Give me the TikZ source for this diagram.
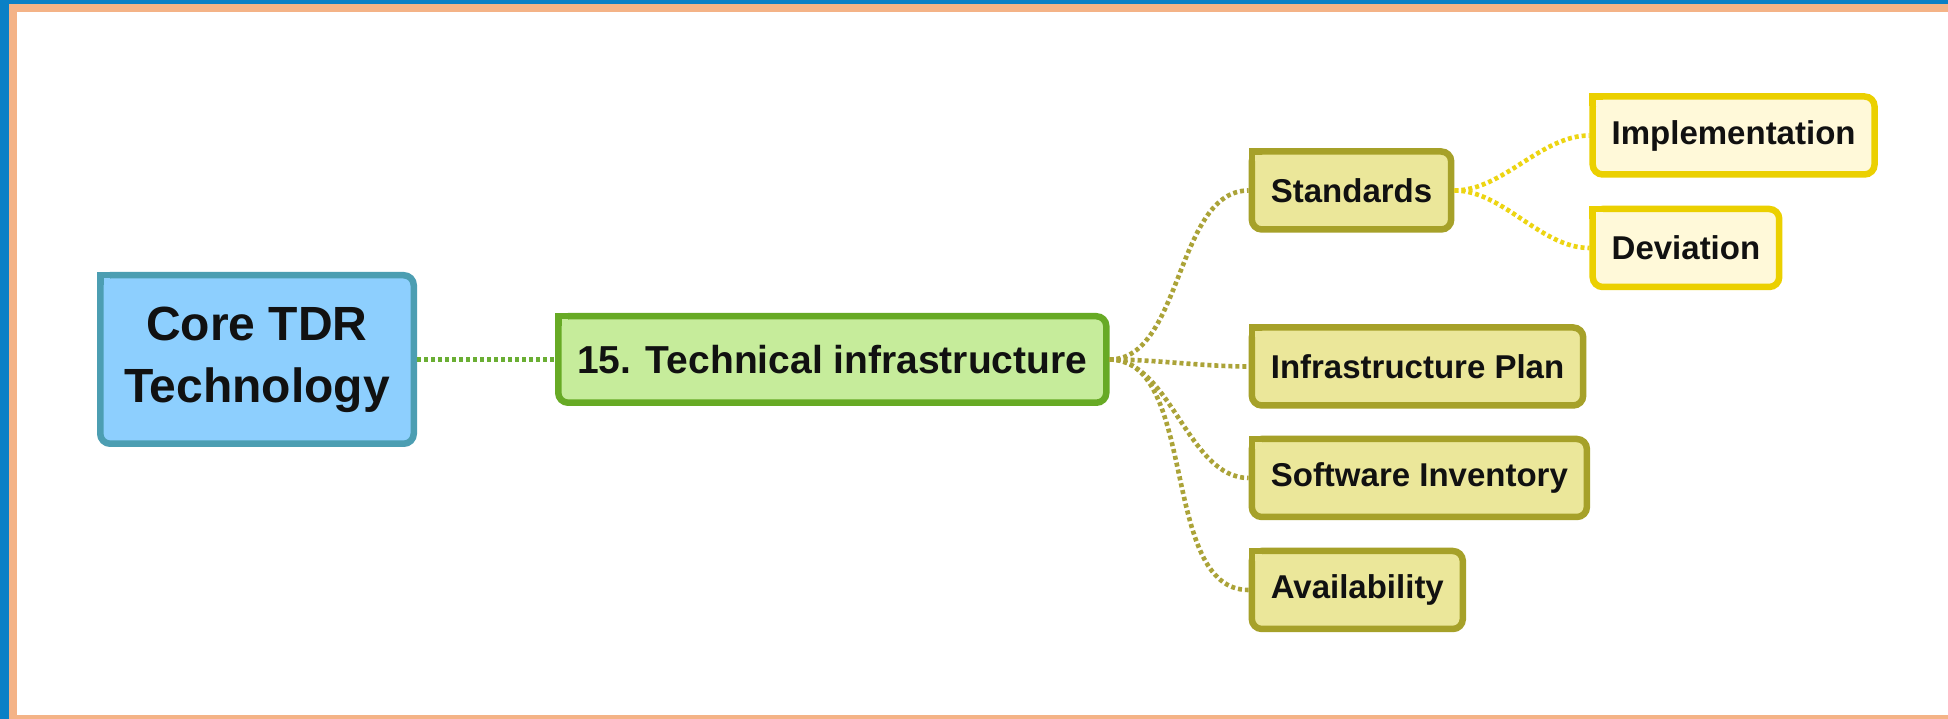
\documentclass[tikz,border=0pt]{standalone}
\usepackage{fontspec}
\setmainfont{Liberation Sans}
\usepackage{tikz}
\usetikzlibrary{positioning}

\definecolor{bgblue}{HTML}{0A80C6}
\definecolor{frameorange}{HTML}{F4B387}
\definecolor{corefill}{HTML}{8DCFFE}
\definecolor{coreline}{HTML}{4C9EB2}
\definecolor{techfill}{HTML}{C6EC9B}
\definecolor{techline}{HTML}{67AA25}
\definecolor{branchfill}{HTML}{EBE79A}
\definecolor{branchline}{HTML}{A6A129}
\definecolor{leaffill}{HTML}{FFF9D9}
\definecolor{leafline}{HTML}{EBD000}
\definecolor{greenlink}{HTML}{6AAE33}
\definecolor{olivelink}{HTML}{ABA338}
\definecolor{yellowlink}{HTML}{EDD512}
\definecolor{textdark}{HTML}{111111}

\begin{document}
\begin{tikzpicture}[x=1pt,y=1pt,
  box/.style={rectangle,rounded corners=10pt,line width=6.5pt,outer sep=3.25pt,
    inner xsep=19pt,text=textdark,font=\bfseries},
  root node/.style={box,fill=corefill,draw=coreline,align=center,
    minimum width=313.5pt,minimum height=168.5pt,font=\bfseries\fontsize{48}{62}\selectfont},
  topic node/.style={box,fill=techfill,draw=techline,minimum height=86.5pt,
    font=\bfseries\fontsize{39}{46}\selectfont},
  branch node/.style={box,fill=branchfill,draw=branchline,minimum height=78pt,
    font=\bfseries\fontsize{33}{40}\selectfont},
  leaf node/.style={box,fill=leaffill,draw=leafline,minimum height=78pt,
    font=\bfseries\fontsize{33}{40}\selectfont},
  link/.style={line width=4.6pt,dash pattern=on 4pt off 3pt},
  green link/.style={link,draw=greenlink},
  olive link/.style={link,draw=olivelink,looseness=0.85},
  yellow link/.style={link,draw=yellowlink,looseness=0.85}]

  % frame
  \useasboundingbox (0,0) rectangle (1948,719);
  \fill[bgblue] (0,0) rectangle (1948,719);
  \fill[frameorange] (8.5,0) rectangle (1948,715);
  \fill[white] (16.5,4) rectangle (1948,706.7);

  \node[root node] (core) at (257,359.5) {Core TDR\\Technology};
  \node[topic node] (tech) [right=138pt of core] {15. Technical infrastructure};
  \node[branch node] (std) [right=139pt of tech,yshift=169pt] {Standards};
  \node[branch node] (plan) [right=139pt of tech,yshift=-7pt] {Infrastructure Plan};
  \node[branch node] (inv) [right=139pt of tech,yshift=-118.5pt] {Software Inventory};
  \node[branch node] (avail) [right=139pt of tech,yshift=-230.5pt] {Availability};
  \node[leaf node] (impl) [right=135pt of std,yshift=55pt] {Implementation};
  \node[leaf node] (dev) [right=135pt of std,yshift=-57.5pt] {Deviation};

  % square top-left corners
  \foreach \n/\c/\f in {core/coreline/corefill,tech/techline/techfill,
      std/branchline/branchfill,plan/branchline/branchfill,inv/branchline/branchfill,
      avail/branchline/branchfill,impl/leafline/leaffill,dev/leafline/leaffill}{
    \fill[\c] (\n.north west) rectangle ++(13.25,-13.25);
    \fill[\f] ([shift={(6.5,-6.5)}]\n.north west) rectangle ++(6.75,-6.75);
  }

  \path[green link] (core) edge (tech);
  \path[olive link]
    (tech.east) edge[out=0,in=180] (std.west)
                edge[out=0,in=180] (plan.west)
                edge[out=0,in=180] (inv.west)
                edge[out=0,in=180] (avail.west);
  \path[yellow link]
    (std.east) edge[out=0,in=180] (impl.west)
               edge[out=0,in=180] (dev.west);

\end{tikzpicture}
\end{document}
